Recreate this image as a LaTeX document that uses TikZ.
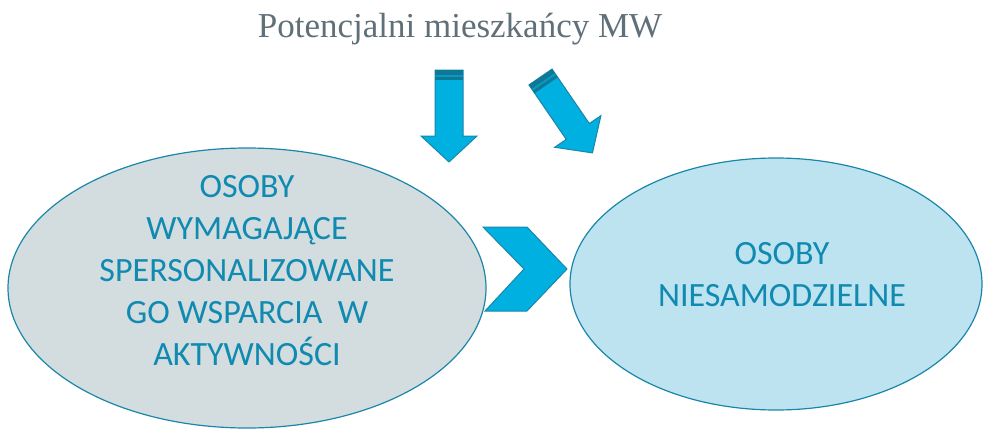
\documentclass[tikz,border=0pt]{standalone}
\usepackage{fontspec}
\setmainfont{Liberation Serif}
\newfontfamily\bodyfont{Carlito}
\usetikzlibrary{shapes.geometric}
\definecolor{edgeblue}{RGB}{26,134,170}
\definecolor{arrowfill}{RGB}{0,176,224}
\definecolor{banddark}{RGB}{14,120,150}
\definecolor{greyfill}{RGB}{211,221,223}
\definecolor{lightfill}{RGB}{189,227,240}
\definecolor{labelblue}{RGB}{16,138,176}
\definecolor{titlegrey}{RGB}{96,112,120}
\tikzset{
  bubble/.style={ellipse, draw=edgeblue, line width=1.2pt, inner sep=0pt},
  bubbletext/.style={font=\bodyfont\fontsize{34}{42}\selectfont, text=labelblue, align=center},
  shapeline/.style={draw=edgeblue, line width=1pt, fill=arrowfill, line join=miter},
}
% block arrow pointing along +y of the local frame, origin at top centre
\newcommand{\blockarrow}{%
  \fill[shapeline] (-14,0) -- (14,0) -- (14,66) -- (28,66) -- (0,92) -- (-28,66) -- (-14,66) -- cycle;
  \fill[banddark] (-14,0) rectangle (14,5);
  \fill[arrowfill!60!banddark] (-14,5) rectangle (14,7);
  \fill[banddark] (-14,7) rectangle (14,10);
}
\begin{document}
\begin{tikzpicture}[x=1pt,y=-1pt]
\useasboundingbox (0,0) rectangle (989,429);

\node[font=\fontsize{35}{40}\selectfont, text=titlegrey] (title) at (460,29) {Potencjalni mieszkańcy MW};

\node[bubble, fill=greyfill, minimum width=478pt, minimum height=280pt] (left) at (247,288) {};
\node[bubble, fill=lightfill, minimum width=412pt, minimum height=252pt] (right) at (776,284) {};

\node[bubbletext] (lefttext) at (247,271) {OSOBY\\WYMAGAJĄCE\\SPERSONALIZOWANE\\GO WSPARCIA\ \ W\\AKTYWNOŚCI};
\node[bubbletext] (righttext) at (782,275) {OSOBY\\NIESAMODZIELNE};

% chevron between the two groups
\fill[shapeline] (483,227) -- (527,227) -- (567,269) -- (527,311) -- (485,311) -- (524,269) -- cycle;

% arrows from the title
\begin{scope}[shift={(449,70)}]
  \blockarrow
\end{scope}
\begin{scope}[shift={(540.5,77)}, rotate=34.4]
  \blockarrow
\end{scope}
\end{tikzpicture}
\end{document}
